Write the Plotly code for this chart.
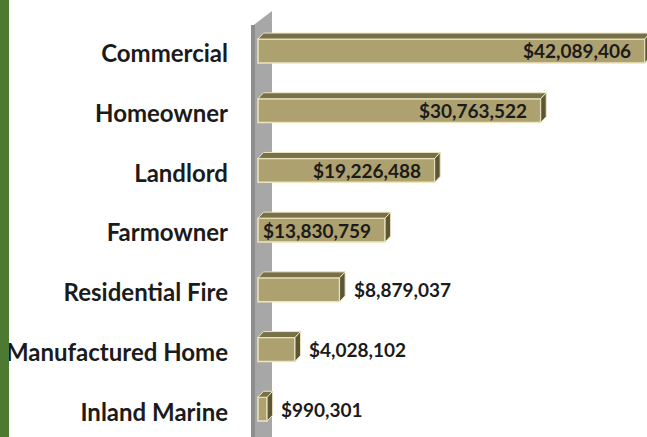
import plotly.graph_objects as go

categories = ["Commercial", "Homeowner", "Landlord", "Farmowner",
              "Residential Fire", "Manufactured Home", "Inland Marine"]
values = [42089406, 30763522, 19226488, 13830759, 8879037, 4028102, 990301]
value_labels = ["$42,089,406", "$30,763,522", "$19,226,488", "$13,830,759",
                "$8,879,037", "$4,028,102", "$990,301"]

W, H = 647, 437
ML = 250
PW = W - ML

FRONT = "#ADA16F"
TOP = "#787049"
SIDE = "#5C5637"
EDGE = "#ECE5BE"
FONT = "Lato"

pos = list(range(len(categories)))
half = 0.2          # half bar thickness (category units)
dy = 0.1            # depth upward (category units)
dx = 600000         # depth rightward (data units)

fig = go.Figure()

# front faces
fig.add_trace(go.Bar(
    y=pos, x=values, orientation="h", width=2 * half,
    marker=dict(color=FRONT, line=dict(color=EDGE, width=1.5)),
    hoverinfo="skip", showlegend=False,
))

# top faces
tx, ty = [], []
for p, v in zip(pos, values):
    t = p - half
    tx += [0, v, v + dx, dx, 0, None]
    ty += [t, t, t - dy, t - dy, t, None]
fig.add_trace(go.Scatter(x=tx, y=ty, mode="lines", fill="toself",
                         fillcolor=TOP, line=dict(color=EDGE, width=1),
                         hoverinfo="skip", showlegend=False))

# side faces
sx, sy = [], []
for p, v in zip(pos, values):
    t, b = p - half, p + half
    sx += [v, v + dx, v + dx, v, v, None]
    sy += [t, t - dy, b - dy, b, t, None]
fig.add_trace(go.Scatter(x=sx, y=sy, mode="lines", fill="toself",
                         fillcolor=SIDE, line=dict(color=EDGE, width=1),
                         hoverinfo="skip", showlegend=False))

# value labels
for p, v, lab in zip(pos, values, value_labels):
    inside = v > 10000000
    fig.add_annotation(
        x=v, y=p, text="<b>" + lab + "</b>", showarrow=False,
        xanchor="right" if inside else "left",
        xshift=-12 if inside else 12,
        font=dict(family=FONT, size=19, color="#1b1b1b"),
    )

def px(x):
    return (x - ML) / PW

def py(y):
    return 1 - y / H

# back wall
fig.add_shape(type="path", xref="paper", yref="paper", layer="below",
              path=f"M {px(251)},{py(437)} L {px(251)},{py(27)} L {px(272)},{py(11)} L {px(272)},{py(437)} Z",
              fillcolor="#A7A7A7", line=dict(width=0))
fig.add_shape(type="rect", xref="paper", yref="paper", layer="below",
              x0=px(251), x1=px(255), y0=py(437), y1=py(25),
              fillcolor="#8E8E8E", line=dict(width=0))
# green strip
fig.add_shape(type="rect", xref="paper", yref="paper",
              x0=px(0), x1=px(9), y0=0, y1=1,
              fillcolor="#4C7A31", line=dict(width=0))

fig.update_layout(
    width=W, height=H,
    margin=dict(l=ML, r=0, t=0, b=0),
    paper_bgcolor="white", plot_bgcolor="white",
    showlegend=False,
    xaxis=dict(range=[-870000, 42330000], visible=False),
    yaxis=dict(range=[6.466, -0.854], tickvals=pos,
               ticktext=["<b>" + c + "</b>" for c in categories],
               tickfont=dict(family=FONT, size=24, color="#1b1b1b"),
               showgrid=False, zeroline=False, showline=False, ticks="",
               ticklabelstandoff=21, ticklabelshift=-3),
)

fig.write_html("out.html", config={"displayModeBar": False},
               post_script="document.body.style.margin='0';document.body.style.padding='0';")
